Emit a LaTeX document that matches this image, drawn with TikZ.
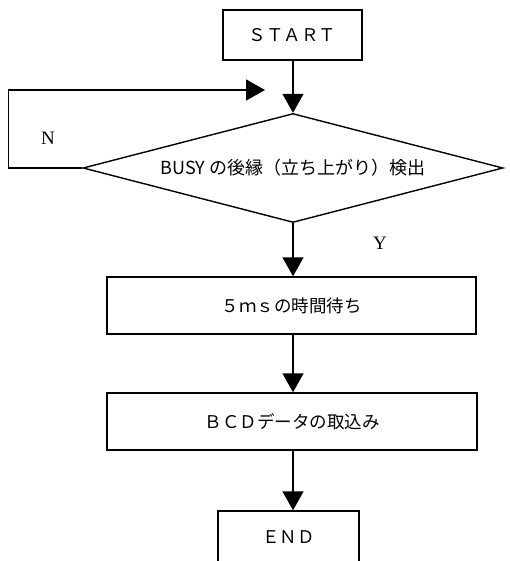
\documentclass[tikz,border=0pt]{standalone}
\usepackage{fontspec}
\setmainfont{Liberation Serif}
\newfontfamily\jpfont{Noto Sans CJK JP}
\usetikzlibrary{arrows.meta,positioning,shapes.geometric}

\begin{document}
\begin{tikzpicture}[x=1pt,y=-1pt,line width=1.4pt,
  stepbox/.style={draw,rectangle,inner sep=0pt,font=\jpfont\fontsize{17.5}{19}\selectfont},
  arr/.style={-{Triangle[length=19pt,width=21pt]}}]
\useasboundingbox (0,0) rectangle (509,561);
\node[stepbox,minimum width=139pt,minimum height=50pt] (start) at (292.5,35) {\raisebox{-4pt}{ＳＴＡＲＴ}};
\node[draw,diamond,aspect=3.8,inner sep=0pt,minimum width=420pt,minimum height=109pt,font=\jpfont\fontsize{18}{20}\selectfont] (busy) at (293,168) {BUSY の後縁（立ち上がり）検出};
\node[stepbox,minimum width=369pt,minimum height=57pt] (wait) at (291.5,305.5) {５ｍｓの時間待ち};
\node[stepbox,minimum width=370pt,minimum height=57pt] (read) at (292,421.5) {ＢＣＤデータの取込み};
\node[stepbox,minimum width=141pt,minimum height=52pt] (end) at (288.5,537) {\raisebox{-3pt}{ＥＮＤ}};
\coordinate (back) at (265,90);
\node[font=\fontsize{19}{21}\selectfont] (nlab) at (48,138) {N};
\node[font=\fontsize{19}{21}\selectfont] (ylab) at (380,243) {Y};
% flow
\draw[arr] (start.south -| busy.north) -- (busy.north);
\draw[arr] (busy.south) -- (busy.south |- wait.north);
\draw[arr] (wait.south -| busy.south) -- (busy.south |- read.north);
\draw[arr] (read.south -| busy.south) -- (busy.south |- end.north);
\draw[arr] (busy.west) -- ++(-74,0) |- (back);
\end{tikzpicture}
\end{document}
